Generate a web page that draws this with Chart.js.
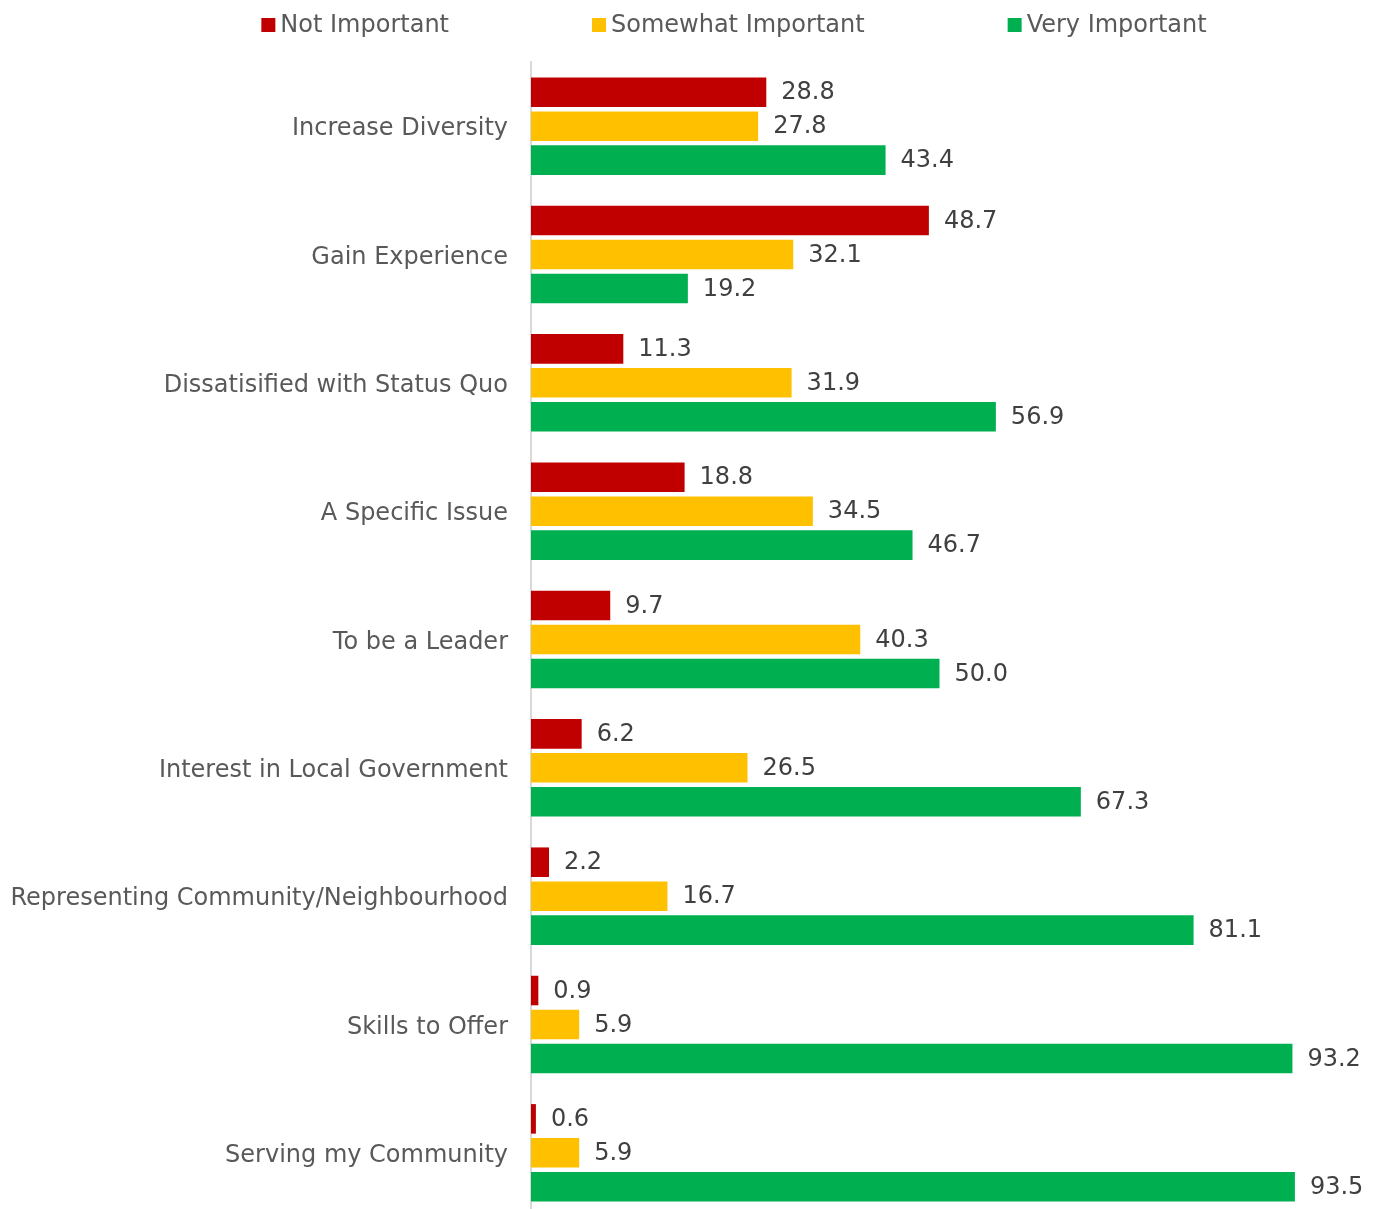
<!DOCTYPE html>
<html>
<head>
<meta charset="utf-8">
<script src="https://cdn.jsdelivr.net/npm/chart.js@4/dist/chart.umd.min.js"></script>
<style>
  html, body { margin: 0; padding: 0; overflow: hidden; background: #ffffff; }
  canvas { display: block; }
</style>
</head>
<body>
<canvas id="c" width="1381" height="1217" style="width:1381px;height:1217px"></canvas>
<script>
const categories = [
  'Increase Diversity',
  'Gain Experience',
  'Dissatisified with Status Quo',
  'A Specific Issue',
  'To be a Leader',
  'Interest in Local Government',
  'Representing Community/Neighbourhood',
  'Skills to Offer',
  'Serving my Community'
];
const seriesNames = ['Not Important', 'Somewhat Important', 'Very Important'];
const notImportant      = [28.8, 48.7, 11.3, 18.8, 9.7, 6.2, 2.2, 0.9, 0.6];
const somewhatImportant = [27.8, 32.1, 31.9, 34.5, 40.3, 26.5, 16.7, 5.9, 5.9];
const veryImportant     = [43.4, 19.2, 56.9, 46.7, 50.0, 67.3, 81.1, 93.2, 93.5];
const seriesColors = ['#C00000', '#FFC000', '#00B050'];

const FONT = '"DejaVu Sans", Verdana, sans-serif';

const valueLabels = {
  id: 'valueLabels',
  afterDatasetsDraw(chart) {
    const ctx = chart.ctx;
    ctx.save();
    ctx.font = '24px ' + FONT;
    ctx.fillStyle = '#404040';
    ctx.textAlign = 'left';
    ctx.textBaseline = 'middle';
    chart.data.datasets.forEach((ds, di) => {
      const meta = chart.getDatasetMeta(di);
      meta.data.forEach((el, i) => {
        ctx.fillText(Number(ds.data[i]).toFixed(1), el.x + 15, el.y + 1);
      });
    });
    ctx.restore();
  }
};

const topLegend = {
  id: 'topLegend',
  afterDraw(chart) {
    const ctx = chart.ctx;
    ctx.save();
    ctx.font = '24px ' + FONT;
    ctx.textBaseline = 'middle';
    ctx.textAlign = 'left';
    const box = 14, boxGap = 5, itemGap = 143, centerX = 734, y = 25;
    const widths = chart.data.datasets.map(ds => box + boxGap + ctx.measureText(ds.label).width);
    const total = widths.reduce((a, b) => a + b, 0) + itemGap * (widths.length - 1);
    let x = centerX - total / 2;
    chart.data.datasets.forEach((ds, i) => {
      ctx.fillStyle = ds.backgroundColor;
      ctx.fillRect(x, y - box / 2, box, box);
      ctx.fillStyle = '#595959';
      ctx.fillText(ds.label, x + box + boxGap, y + 1);
      x += widths[i] + itemGap;
    });
    ctx.restore();
  }
};

new Chart(document.getElementById('c'), {
  type: 'bar',
  data: {
    labels: categories,
    datasets: [
      { label: seriesNames[0], data: notImportant, backgroundColor: seriesColors[0] },
      { label: seriesNames[1], data: somewhatImportant, backgroundColor: seriesColors[1] },
      { label: seriesNames[2], data: veryImportant, backgroundColor: seriesColors[2] }
    ]
  },
  options: {
    indexAxis: 'y',
    responsive: false,
    animation: false,
    devicePixelRatio: 1,
    datasets: {
      bar: { categoryPercentage: 0.794, barPercentage: 0.87 }
    },
    layout: { padding: { top: 62, right: 33, bottom: 0, left: 0 } },
    plugins: {
      legend: { display: false },
      tooltip: { enabled: false },
      title: { display: false }
    },
    scales: {
      x: {
        display: false,
        min: 0,
        max: 100,
        grid: { display: false }
      },
      y: {
        grid: { display: false, drawTicks: false },
        border: { display: true, color: '#d9d9d9', width: 2 },
        ticks: {
          color: '#595959',
          font: { family: FONT, size: 24 },
          padding: 23,
          labelOffset: 3
        },
        afterFit(scale) {
          scale.width = 531;
          scale.paddingTop = 0;
          scale.paddingBottom = 0;
        }
      }
    }
  },
  plugins: [valueLabels, topLegend]
});
</script>
</body>
</html>
